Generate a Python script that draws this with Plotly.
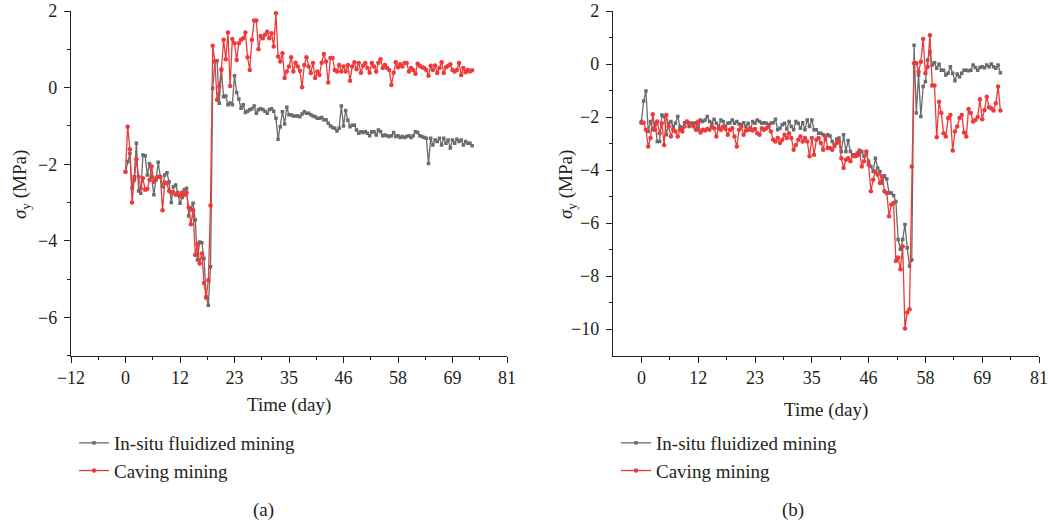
import plotly.graph_objects as go

# ---------------- data ----------------
# x positions are sample indices (one sample every ~0.4625 day); tick labels are in days
x_tick_steps_a = [-25, 0, 25, 50, 75, 100, 125, 150, 175]
x_tick_labels_a = ['−12', '0', '12', '23', '35', '46', '58', '69', '81']
x_tick_steps_b = [0, 25, 50, 75, 100, 125, 150, 175]
x_tick_labels_b = ['0', '12', '23', '35', '46', '58', '69', '81']

y_ticks_a = [-6, -4, -2, 0, 2]
y_tick_labels_a = ['−6', '−4', '−2', '0', '2']
y_ticks_b = [-10, -8, -6, -4, -2, 0, 2]
y_tick_labels_b = ['−10', '−8', '−6', '−4', '−2', '0', '2']

a_insitu = [
    -2.2, -1.93, -1.72, -2.63, -2.33, -1.45, -2.7, -2.76, -1.76, -1.78,
    -2.28, -1.99, -2.33, -2.8, -2.41, -1.95, -2.33, -2.59, -2.28, -2.22,
    -2.46, -3.0, -2.59, -2.54, -2.74, -3.02, -2.87, -2.67, -2.63, -3.35,
    -3.15, -3.02, -3.46, -4.5, -4.03, -4.05, -4.46, -5.46, -5.68, -4.68,
    -0.02, 0.68, 0.70, -0.41, 0.45, -0.24, -0.22, -0.45, -0.40, -0.45,
    0.31, -0.13, -0.30, -0.54, -0.45, -0.65, -0.62, -0.58, -0.55, -0.48,
    -0.67, -0.58, -0.55, -0.57, -0.62, -0.67, -0.57, -0.55, -0.62, -0.8,
    -1.35, -1.02, -0.63, -0.95, -0.51, -0.71, -0.71, -0.74, -0.74, -0.74,
    -0.76, -0.69, -0.63, -0.67, -0.67, -0.71, -0.74, -0.76, -0.8, -0.8,
    -0.78, -0.84, -0.84, -0.93, -1.0, -1.04, -1.06, -1.13, -1.06,
    -0.48, -1.0, -0.60, -0.85, -1.02, -0.98, -0.98, -1.11, -1.19, -1.15,
    -1.17, -1.15, -1.19, -1.26, -1.15, -1.15, -1.24, -1.11, -1.15, -1.26,
    -1.24, -1.26, -1.28, -1.26, -1.17, -1.28, -1.26, -1.30, -1.28, -1.30,
    -1.28, -1.26, -1.30, -1.26, -1.15, -1.17, -1.26, -1.28, -1.30, -1.32,
    -1.98, -1.32, -1.50, -1.37, -1.41, -1.32, -1.50, -1.32, -1.45, -1.37,
    -1.58, -1.37, -1.45, -1.35, -1.41, -1.37, -1.50, -1.41, -1.45, -1.45,
    -1.52,
]

a_caving = [
    -2.2, -1.02, -1.61, -3.0, -2.41, -1.87, -2.33, -2.63, -2.37, -2.67,
    -2.65, -2.41, -2.06, -2.46, -2.37, -2.33, -2.33, -3.2, -2.48, -2.5,
    -2.7, -2.74, -2.73, -2.8, -2.8, -2.83, -2.74, -2.8, -2.74, -3.13,
    -3.57, -3.2, -4.37, -4.09, -4.59, -4.33, -5.1, -5.49, -5.03, -3.08,
    1.09, 0.68, -0.32, 0.03, 0.48, 1.25, 0.74, 1.44, 0.04, 1.27,
    1.16, 0.72, 1.16, 1.25, 1.29, 1.44, 0.79, 0.46, 1.25, 1.75,
    1.75, 1.0, 1.35, 1.29, 1.38, 1.46, 1.29, 1.42, 1.07, 1.94,
    0.81, 0.68, 0.9, 0.25, 0.42, 0.55, 0.79, 0.42, 0.65, 0.55,
    0.44, 0.01, 0.59, 0.79, 0.55, 0.38, 0.64, 0.25, 0.42, 0.33,
    0.65, 0.88, 0.68, 0.13, 0.77, 0.77, 0.46, 0.42, 0.59, 0.42,
    0.55, 0.42, 0.59, 0.18, 0.55, 0.66, 0.48, 0.64, 0.39, 0.57,
    0.64, 0.51, 0.39, 0.64, 0.55, 0.42, 0.65, 0.74, 0.51, 0.59,
    0.51, 0.46, 0.07, 0.39, 0.66, 0.53, 0.61, 0.55, 0.64, 0.64,
    0.42, 0.51, 0.46, 0.36, 0.62, 0.57, 0.53, 0.51, 0.46, 0.31,
    0.57, 0.46, 0.58, 0.38, 0.51, 0.66, 0.38, 0.53, 0.57, 0.61,
    0.46, 0.42, 0.46, 0.64, 0.33, 0.51, 0.40, 0.46, 0.42, 0.45,
]

b_insitu = [
    -2.17, -1.39, -1.02, -2.54, -2.17, -2.48, -2.23, -2.92, -2.92, -1.92,
    -1.98, -2.67, -2.23, -2.17, -2.36, -2.23, -1.98, -2.36, -2.42, -2.21,
    -2.17, -2.36, -2.23, -2.23, -2.21, -2.48, -2.11, -2.17, -2.11, -1.98,
    -2.17, -2.23, -2.08, -2.23, -2.36, -2.11, -2.17, -2.36, -2.23, -2.21,
    -2.11, -2.23, -2.17, -2.26, -2.29, -2.21, -2.36, -2.23, -2.48, -2.17,
    -2.23, -2.11, -2.17, -2.23, -2.21, -2.23, -2.29, -2.23, -2.21, -2.08,
    -2.48, -2.42, -2.29, -2.23, -2.45, -2.17, -2.36, -2.48, -2.17, -2.23,
    -2.42, -2.21, -2.48, -2.11, -2.36, -2.11, -2.48, -2.48, -2.61, -2.61,
    -2.67, -2.86, -2.67,
    -2.71, -2.92, -3.11, -2.83, -2.79, -3.30, -2.67, -3.30, -2.88, -3.30,
    -3.42, -3.42, -3.36, -3.42, -3.30, -3.48, -3.36, -3.67, -3.86, -4.05,
    -3.55, -3.92, -4.05, -4.49, -4.21, -4.34, -4.86, -4.86, -4.96, -5.18,
    -6.62, -6.99, -6.62, -6.05, -6.93, -7.62, -7.39, 0.71, -1.85, -0.41,
    -1.98, -0.85, -0.66, 0.15, 0.46, -0.04, 0.05, -0.16, -0.01, -0.23,
    -0.23, -0.41, -0.35, -0.10, -0.35, -0.63, -0.38, -0.48, -0.35, -0.23,
    -0.23, -0.25, -0.23, -0.04, -0.13, -0.23, -0.13, -0.10, -0.14, -0.04,
    -0.10, 0.00, -0.10, -0.16, -0.04, -0.33,
]

b_caving = [
    -2.21, -2.21, -2.48, -3.11, -2.79, -1.89, -2.48, -2.17, -2.61, -2.23,
    -3.05, -1.92, -2.36, -2.73, -2.48, -2.54, -2.73, -2.48, -2.54, -2.36,
    -2.17, -2.23, -2.29, -2.36, -2.48, -2.17, -2.58, -2.48, -2.51, -2.45,
    -2.48, -2.36, -2.42, -2.73, -2.42, -2.48, -2.36, -2.45, -2.67, -2.48,
    -2.42, -2.73, -3.11, -2.48, -2.36, -2.67, -2.51, -2.48, -2.42, -2.51,
    -2.45, -2.61, -2.67, -2.42, -2.48, -2.42, -2.36, -2.54, -2.86, -2.92,
    -2.79, -2.98, -2.86, -2.67, -2.79, -2.61, -2.79, -3.23, -3.05, -2.86,
    -2.73, -2.92, -2.79, -2.92, -3.48, -2.79, -3.42, -2.86, -2.79, -2.98,
    -3.23, -2.73, -3.17,
    -3.17, -3.23, -3.05, -2.98, -2.92, -3.55, -3.92, -3.61, -3.55, -3.67,
    -3.46, -3.48, -3.45, -3.26, -3.86, -3.67, -3.30, -3.80,
    -4.80, -4.36, -4.05, -4.17, -4.49, -4.24, -4.80, -4.86, -5.74, -5.30,
    -5.24, -7.43, -7.30, -7.74, -6.87, -9.97, -9.37, -9.25, -3.86,
    0.03, 0.03, -0.29, 0.09, 0.94, -0.35, -0.10, 1.09, -0.81, -0.81,
    -2.76, -1.42, -1.85, -2.61, -2.73, -2.04, -1.92, -3.26, -2.54, -2.36,
    -2.04, -1.92, -2.58, -2.73, -1.70, -1.85, -2.17, -2.11, -2.00, -1.33,
    -2.08, -1.73, -1.23, -1.63, -1.67, -1.75, -1.48, -0.85, -1.75,
]

series_names = ['In-situ fluidized mining', 'Caving mining']

# ---------------- style ----------------
GRAY = '#6b6b6b'
RED = '#ee3a3a'
FONT = 'Liberation Serif'
TXT = '#231f20'
W, H = 1048, 525


def px(xp):
    return xp / W


def py(yp):
    return (H - yp) / H


fig = go.Figure()


def add_series(vals, name, color, symbol, msize, xa, ya, legend):
    fig.add_trace(go.Scatter(
        x=list(range(len(vals))), y=vals, name=name, mode='lines+markers',
        line=dict(color=color, width=1.3),
        marker=dict(color=color, symbol=symbol, size=msize, line=dict(width=0)),
        xaxis=xa, yaxis=ya, legend=legend,
    ))


add_series(a_insitu, series_names[0], GRAY, 'square', 3.5, 'x', 'y', 'legend')
add_series(a_caving, series_names[1], RED, 'circle', 4.5, 'x', 'y', 'legend')
add_series(b_insitu, series_names[0], GRAY, 'square', 3.5, 'x2', 'y2', 'legend2')
add_series(b_caving, series_names[1], RED, 'circle', 4.5, 'x2', 'y2', 'legend2')

axis_common = dict(
    showline=True, linecolor='#231f20', linewidth=1.3, ticks='outside', ticklen=6,
    tickwidth=1.2, tickcolor='#231f20', showgrid=False, zeroline=False,
    tickfont=dict(family=FONT, size=18, color=TXT), tickmode='array',
    automargin=False, ticklabeloverflow='allow',
)
minor_common = dict(tickmode='array', ticklen=3, ticks='outside', tickcolor='#231f20',
                    tickwidth=1.2, showgrid=False)

YDOM = [py(355.7), py(11)]
fig.update_layout(
    width=W, height=H,
    margin=dict(l=0, r=0, t=0, b=0, autoexpand=False),
    paper_bgcolor='white', plot_bgcolor='white',
    font=dict(family=FONT, color=TXT),
    xaxis=dict(domain=[px(71), px(507)], range=[-25, 175], anchor='y',
               tickvals=x_tick_steps_a, ticktext=x_tick_labels_a,
               minor=dict(tickvals=[v + 12.5 for v in x_tick_steps_a[:-1]], **minor_common),
               **axis_common),
    yaxis=dict(domain=YDOM, range=[-7, 2], anchor='x',
               tickvals=y_ticks_a, ticktext=y_tick_labels_a, ticklabelstandoff=3,
               minor=dict(tickvals=[-7, -5, -3, -1, 1], **minor_common),
               **axis_common),
    xaxis2=dict(domain=[px(613), px(1039)], range=[-12.5, 175], anchor='y2',
                tickvals=x_tick_steps_b, ticktext=x_tick_labels_b,
                minor=dict(tickvals=[v + 12.5 for v in x_tick_steps_b[:-1]], **minor_common),
                **axis_common),
    yaxis2=dict(domain=YDOM, range=[-11, 2], anchor='x2',
                tickvals=y_ticks_b, ticktext=y_tick_labels_b, ticklabelstandoff=3,
                minor=dict(tickvals=[-9, -7, -5, -3, -1, 1], **minor_common),
                **axis_common),
    legend=dict(x=px(74), y=py(424), xanchor='left', yanchor='top',
                font=dict(family=FONT, size=19, color=TXT), bgcolor='rgba(0,0,0,0)',
                itemwidth=30, tracegroupgap=0),
    legend2=dict(x=px(616), y=py(424), xanchor='left', yanchor='top',
                 font=dict(family=FONT, size=19, color=TXT), bgcolor='rgba(0,0,0,0)',
                 itemwidth=30, tracegroupgap=0),
    showlegend=True,
)

ann_font = dict(family=FONT, size=19, color=TXT)


def note(text, xp, yp, angle=0):
    fig.add_annotation(text=text, textangle=angle, x=px(xp), y=py(yp), xref='paper', yref='paper',
                       xanchor='center', yanchor='middle', showarrow=False, font=ann_font)


note('<i>σ</i><sub>y</sub> (MPa)', 21, 185, -90)
note('<i>σ</i><sub>y</sub> (MPa)', 567, 185, -90)
note('Time (day)', 289, 405)
note('Time (day)', 826, 410)
note('(a)', 263, 510)
note('(b)', 793, 510)

# remove the browser's default 8px body margin so the figure fills the window exactly
fig.write_html('out.html', config={'displayModeBar': False},
               post_script="document.body.style.margin='0px';")
